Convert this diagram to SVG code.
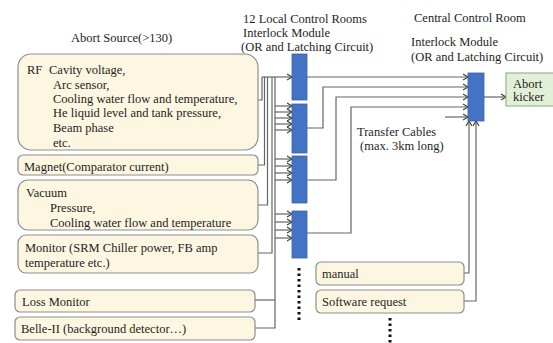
<svg xmlns="http://www.w3.org/2000/svg" width="553" height="343" viewBox="0 0 553 343">
<style>
text{font-family:"Liberation Serif","Times New Roman",serif;font-size:12.5px;fill:#1e1e1e}
.src{fill:#fdf6e1;stroke:#8e8e8e;stroke-width:1.2}
.mod{fill:#4472c4;stroke:#3a62a8;stroke-width:0.8}
.ln{fill:none;stroke:#666;stroke-width:1.2}
.ar{fill:none;stroke:#666;stroke-width:1.2;marker-end:url(#ah)}
.dot{fill:none;stroke:#111;stroke-width:3;stroke-dasharray:2.5 3}
</style>
<defs>
<marker id="ah" markerUnits="userSpaceOnUse" markerWidth="8" markerHeight="8" refX="6" refY="4" orient="auto">
<path d="M1,1 L6,4 L1,7" fill="none" stroke="#444" stroke-width="1.2"/>
</marker>
</defs>
<rect width="553" height="343" fill="#fff"/>
<g id="titles">
<text x="71" y="42">Abort Source(&gt;130)</text>
<text x="243" y="23">12 Local Control Rooms</text>
<text x="243" y="37">Interlock Module</text>
<text x="241" y="51">(OR and Latching Circuit)</text>
<text x="414" y="22">Central Control Room</text>
<text x="411" y="46">Interlock Module</text>
<text x="411" y="61">(OR and Latching Circuit)</text>
<text x="357" y="136">Transfer Cables</text>
<text x="360" y="150">(max. 3km long)</text>
</g>
<g id="connectors">
<path class="ln" d="M258,100 H262 V77"/>
<path class="ln" d="M258,165 H264.5 V77"/>
<path class="ln" d="M258,205 H267.5 V77"/>
<path class="ln" d="M258,253 H272 V77"/>
<path class="ln" d="M255,300 H275"/>
<path class="ln" d="M255,328 H275 V77"/>
<path class="ar" d="M262,77 H292"/>
<path class="ar" d="M275,106 H292"/>
<path class="ar" d="M275,112 H292"/>
<path class="ar" d="M275,118 H292"/>
<path class="ar" d="M275,124 H292"/>
<path class="ar" d="M275,130 H292"/>
<path class="ar" d="M275,159 H292"/>
<path class="ar" d="M275,166 H292"/>
<path class="ar" d="M275,173 H292"/>
<path class="ar" d="M275,180 H292"/>
<path class="ar" d="M275,214 H292"/>
<path class="ar" d="M275,222 H292"/>
<path class="ar" d="M275,230 H292"/>
<path class="ar" d="M275,238 H292"/>
<path class="ar" d="M307,77 H468"/>
<path class="ar" d="M307,128 H323 V87 H468"/>
<path class="ar" d="M307,180 H336 V97 H468"/>
<path class="ar" d="M307,233 H351 V107 H468"/>
<path class="ar" d="M445,117 H468"/>
<path class="ar" d="M464,273 H469 V121"/>
<path class="ar" d="M464,301 H476 V121"/>
<path class="ar" d="M484,97 H506"/>
<path class="dot" d="M299,268 V322"/>
<path class="dot" d="M390,318 V343"/>
</g>
<g id="rf">
<rect class="src" x="18" y="54" width="240" height="96" rx="13"/>
<text x="27" y="74">RF</text>
<text x="49" y="74">Cavity voltage,</text>
<text x="53" y="89">Arc sensor,</text>
<text x="53" y="103">Cooling water flow and temperature,</text>
<text x="53" y="117">He  liquid level and tank pressure,</text>
<text x="53" y="132">Beam phase</text>
<text x="53" y="147">etc.</text>
</g>
<g id="magnet">
<rect class="src" x="18" y="155" width="240" height="20" rx="5"/>
<text x="24" y="171">Magnet(Comparator current)</text>
</g>
<g id="vacuum">
<rect class="src" x="18" y="180" width="240" height="50" rx="10"/>
<text x="26" y="197">Vacuum</text>
<text x="50" y="212">Pressure,</text>
<text x="50" y="227">Cooling water flow and temperature</text>
</g>
<g id="monitor">
<rect class="src" x="18" y="235" width="240" height="38" rx="8"/>
<text x="25" y="252">Monitor (SRM Chiller power, FB amp</text>
<text x="25" y="267">temperature etc.)</text>
</g>
<g id="loss">
<rect class="src" x="15" y="290" width="240" height="22" rx="5"/>
<text x="22" y="306">Loss Monitor</text>
</g>
<g id="belle">
<rect class="src" x="15" y="317" width="240" height="23" rx="5"/>
<text x="21" y="333">Belle-II (background detector…)</text>
</g>
<g id="local1"><rect class="mod" x="292" y="54" width="15" height="46"/></g>
<g id="local2"><rect class="mod" x="292" y="104" width="15" height="49"/></g>
<g id="local3"><rect class="mod" x="292" y="156" width="15" height="47"/></g>
<g id="local4"><rect class="mod" x="292" y="211" width="15" height="47"/></g>
<g id="central"><rect class="mod" x="468" y="73" width="16" height="48"/></g>
<g id="kicker">
<rect x="506" y="73" width="50" height="33" fill="#e3f0d8" stroke="#9bb58a" stroke-width="1.2"/>
<text x="513" y="88">Abort</text>
<text x="513" y="101">kicker</text>
</g>
<g id="manual">
<rect class="src" x="316" y="262" width="148" height="23" rx="5"/>
<text x="322" y="278">manual</text>
</g>
<g id="software">
<rect class="src" x="316" y="290" width="148" height="23" rx="5"/>
<text x="322" y="306">Software request</text>
</g>
</svg>
